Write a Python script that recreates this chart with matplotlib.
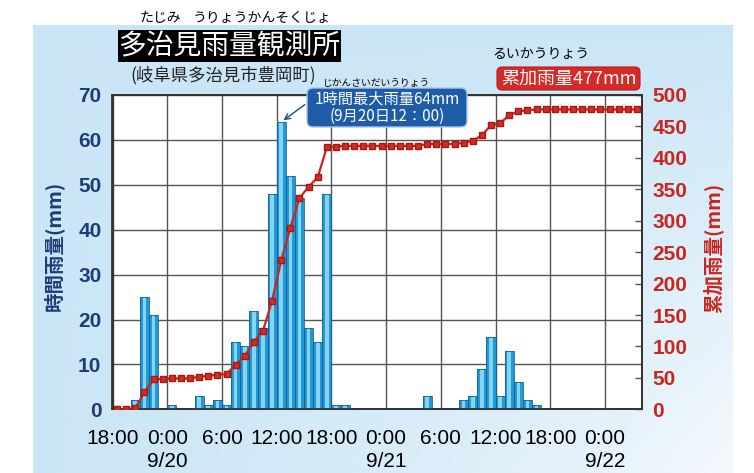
import numpy as np
import matplotlib.pyplot as plt
from matplotlib.patches import FancyBboxPatch

plt.rcParams['font.family'] = ['Liberation Sans', 'Noto Sans CJK JP', 'DejaVu Sans']

# hourly rainfall (mm), one value per hour starting 9/19 18:00
hourly = [0, 0, 2, 25, 21, 0, 1, 0, 0, 3, 1, 2, 1, 15, 14, 22, 18, 48, 64, 52,
          47, 18, 15, 48, 1, 1, 0, 0, 0, 0, 0, 0, 0, 0, 3, 0, 0, 0, 2, 3,
          9, 16, 3, 13, 6, 2, 1, 0, 0, 0, 0, 0, 0, 0, 0, 0, 0, 0]
# cumulative rainfall (mm)
cumulative = [0, 0, 2, 27, 48, 48, 49, 49, 49, 52, 53, 55, 56, 71, 85, 107, 125, 173, 237, 289,
              336, 354, 369, 417, 418, 419, 419, 419, 419, 419, 419, 419, 419, 419, 422, 422, 422, 422, 424, 427,
              436, 452, 455, 468, 474, 476, 477, 477, 477, 477, 477, 477, 477, 477, 477, 477, 477, 477]
tick_labels = ['18:00', '0:00\n9/20', '6:00', '12:00', '18:00',
               '0:00\n9/21', '6:00', '12:00', '18:00', '0:00\n9/22']
left_ticks = [0, 10, 20, 30, 40, 50, 60, 70]
right_ticks = [0, 50, 100, 150, 200, 250, 300, 350, 400, 450, 500]

W, H = 754, 473
NAVY = '#233a78'
RED = '#c8261f'

fig = plt.figure(figsize=(W / 100, H / 100), dpi=100)

# sky background panel
bg = fig.add_axes([0, 0, 1, 1], zorder=0)
bg.set_xlim(0, W)
bg.set_ylim(H, 0)
bg.axis('off')
yy, xx = np.mgrid[0:1:120j, 0:1:200j]
w = np.clip(0.2 + 0.5 * yy * xx + 0.35 * xx ** 3 * yy, 0, 1)
top = np.array([192, 225, 244]) / 255
white = np.array([242, 248, 253]) / 255
img = top[None, None, :] * (1 - w[..., None]) + white[None, None, :] * w[..., None]
bg.imshow(img, extent=[33, 733, 473, 26], aspect='auto')

# main chart
ax = fig.add_axes([112.5 / W, (H - 409.3) / H, 529 / W, 314.3 / H], zorder=1)
ax.set_facecolor('white')
hours = np.arange(len(hourly))
vals = np.array(hourly)
m = vals > 0
ax.bar(hours[m], vals[m], width=1, align='edge', color='#1f9ad8', linewidth=0, zorder=3)
ax.bar(hours[m] + 0.3, vals[m], width=0.4, align='edge', color='#86d3f2', linewidth=0, zorder=3.5)
ax.bar(hours[m], vals[m], width=1, align='edge', fill=False, edgecolor='#1b5f92', linewidth=0.6, zorder=4)

ax.set_xlim(0, 58)
ax.set_ylim(0, 70)
ax.set_xticks(range(0, 55, 6))
ax.set_xticklabels(tick_labels, linespacing=1.3)
ax.set_yticks(left_ticks)
ax.tick_params(axis='x', length=0, pad=14, labelsize=15, colors='black')
ax.tick_params(axis='y', length=0, pad=8, labelsize=15, labelcolor=NAVY)
for t in ax.get_yticklabels():
    t.set_fontweight('bold')
ax.grid(True, color='#555555', linewidth=1.0, zorder=0)
ax.set_axisbelow(True)
for s in ax.spines.values():
    s.set_color('#333333')
    s.set_linewidth(1.3)
ax.set_ylabel('時間雨量(mm)', color=NAVY, fontsize=14, fontweight='bold',
              family=['Noto Sans CJK JP', 'DejaVu Sans'])
ax.yaxis.set_label_coords(-0.092, 0.52)

ax2 = ax.twinx()
ax2.set_ylim(0, 500)
ax2.set_yticks(right_ticks)
ax2.plot(hours + 0.5, cumulative, color=RED, lw=1.6, marker='s', ms=4,
         mec='#a81812', mfc='#d52b22', zorder=5)
ax2.tick_params(axis='y', direction='in', length=5, width=1, color='#555555',
                pad=8, labelsize=15, labelcolor=RED)
for t in ax2.get_yticklabels():
    t.set_fontweight('bold')
for s in ax2.spines.values():
    s.set_color('#333333')
    s.set_linewidth(1.3)
ax2.set_ylabel('累加雨量(mm)', color=RED, fontsize=14, fontweight='bold',
               family=['Noto Sans CJK JP', 'DejaVu Sans'])
ax2.yaxis.set_label_coords(1.116, 0.513)

# overlay text and boxes (pixel coordinates)
ov = fig.add_axes([0, 0, 1, 1], zorder=5)
ov.set_xlim(0, W)
ov.set_ylim(H, 0)
ov.axis('off')
jp = ['Noto Sans CJK JP', 'DejaVu Sans']

ov.text(160, 18, 'たじみ', ha='center', va='center', fontsize=10, family=jp)
ov.text(262, 18, 'うりょうかんそくじょ', ha='center', va='center', fontsize=10, family=jp)
ov.add_patch(FancyBboxPatch((118, 30), 223, 32, boxstyle='square,pad=0', fc='black', ec='none'))
ov.text(229, 46, '多治見雨量観測所', ha='center', va='center', fontsize=20, color='white', family=jp)
ov.text(223, 75, '(岐阜県多治見市豊岡町)', ha='center', va='center', fontsize=12.5,
        color='#222222', family=jp)
ov.text(376, 83, 'じかんさいだいうりょう', ha='center', va='center', fontsize=7, family=jp)

ov.text(541, 54, 'るいかうりょう', ha='center', va='center', fontsize=10, family=jp)
ov.add_patch(FancyBboxPatch((497, 67), 143, 23, boxstyle='round,pad=0,rounding_size=5',
                            fc='#d62a28', ec='#b81d1b', lw=0.8))
ov.text(568.5, 78.5, '累加雨量477mm', ha='center', va='center', fontsize=13,
        color='white', family=jp)

ov.add_patch(FancyBboxPatch((307, 88), 160, 39, boxstyle='round,pad=0,rounding_size=6',
                            fc='#1e5ca8', ec='#a8c8ea', lw=1.0))
ov.text(387, 99, '1時間最大雨量64mm', ha='center', va='center', fontsize=11,
        color='white', family=jp)
ov.text(387, 116, '(9月20日12：00)', ha='center', va='center', fontsize=11,
        color='white', family=jp)
ov.annotate('', xy=(18.5, 64), xycoords=ax.transData, xytext=(307, 103), textcoords='data',
            arrowprops=dict(arrowstyle='->', color='#1e4d8c', lw=1.0))

fig.savefig('out.png', dpi=100)
